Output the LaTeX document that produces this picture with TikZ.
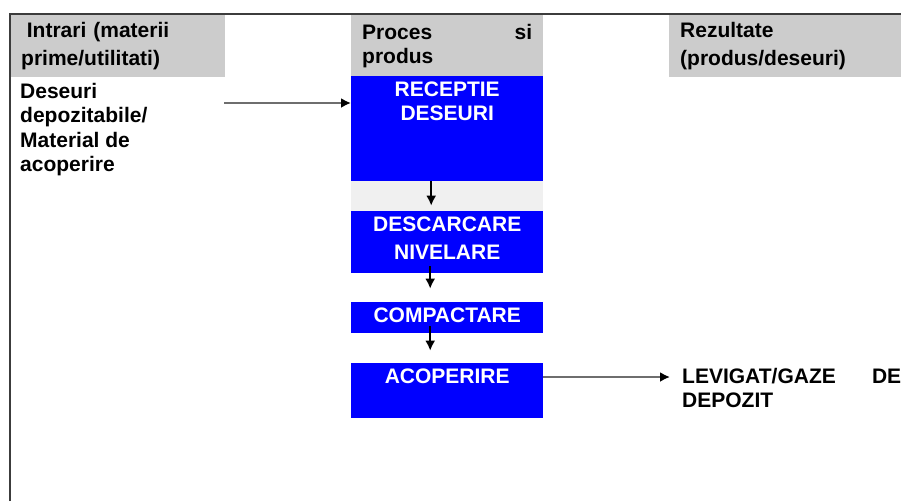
\documentclass[tikz,border=0pt]{standalone}
\usepackage{fontspec}
\setmainfont{Liberation Sans}
\usetikzlibrary{positioning,arrows.meta}
\definecolor{hdrgray}{RGB}{204,204,204}
\definecolor{gapgray}{RGB}{240,240,240}
\definecolor{boxblue}{RGB}{0,0,255}
\definecolor{rulegray}{RGB}{60,60,60}
\definecolor{linkgray}{RGB}{110,110,110}

\begin{document}
\begin{tikzpicture}[x=1pt,y=-1pt,
  every node/.style={inner sep=0pt},
  txt/.style={font=\fontsize{21}{#1}\selectfont\bfseries},
  hdr/.style={fill=hdrgray, anchor=north west, align=left, minimum height=62pt},
  procbox/.style={fill=boxblue, anchor=north west, minimum width=192pt},
  boxtext/.style={text=white, align=center, anchor=north, yshift=-6pt},
  flow/.style={-{Latex[length=10pt,width=10pt]}, line width=2pt},
  feed/.style={draw=linkgray, line width=2.2pt, -{Latex[length=10pt,width=10pt,color=black]}}]
  \useasboundingbox (0,0) rectangle (901,501);

  % frame
  \draw[rulegray, line width=1.8pt] (10,501) -- (10,14) -- (901,14);

  % column headers
  \node[hdr, txt=28, minimum width=214pt, inner xsep=10pt, text width=194pt] (hIn) at (11,15)
    {\hspace*{0.27em}Intrari (materii\\prime/utilitati)};
  \node[hdr, txt=24, minimum width=192pt, inner xsep=11pt, text width=170pt] (hProc) at (351,15)
    {Proces\hskip 0pt plus 1filll si\\produs};
  \node[hdr, txt=28, minimum width=232pt, inner xsep=11pt, text width=210pt] (hOut) at (669,15)
    {Rezultate\\(produs/deseuri)};

  % inputs
  \node[txt=24.5, anchor=north west, align=left] (input) at (20,83)
    {Deseuri\\depozitabile/\\Material de\\acoperire};
  \coordinate (inStart) at (224,103);

  % process steps
  \fill[gapgray] (351,181) rectangle (543,210.7);
  \node[procbox, minimum height=105pt] (recv) at (351,76) {};
  \node[procbox, minimum height=62pt] (unload) at (351,210.7) {};
  \node[procbox, minimum height=31.3pt] (compact) at (351,301.7) {};
  \node[procbox, minimum height=55pt] (cover) at (351,362.7) {};
  \node[boxtext, txt=23.5] (recvT) at (recv.north) {RECEPTIE\\DESEURI};
  \node[boxtext, txt=28] (unloadT) at (unload.north) {DESCARCARE\\NIVELARE};
  \node[boxtext, txt=24] (compactT) at (compact.north) {COMPACTARE};
  \node[boxtext, txt=24] (coverT) at (cover.north) {ACOPERIRE};

  % outputs
  \coordinate (outEnd) at (670,377);
  \node[txt=24, anchor=north west, align=left, text width=219pt] (output) at (682,368)
    {LEVIGAT/GAZE\hskip 0pt plus 1filll DE\\DEPOZIT};

  % connectors
  \draw[feed] (inStart) -- (inStart -| recv.west);
  \draw[flow, shorten >=5pt] ([xshift=-16pt]recv.south) -- ([xshift=-16pt]unload.north);
  \draw[flow, shorten <=-7pt, shorten >=13pt] ([xshift=-17pt]unload.south) -- ([xshift=-17pt]compact.north);
  \draw[flow, shorten <=-7pt, shorten >=12pt] ([xshift=-17pt]compact.south) -- ([xshift=-17pt]cover.north);
  \draw[feed] (outEnd -| cover.east) -- (outEnd);
\end{tikzpicture}
\end{document}
